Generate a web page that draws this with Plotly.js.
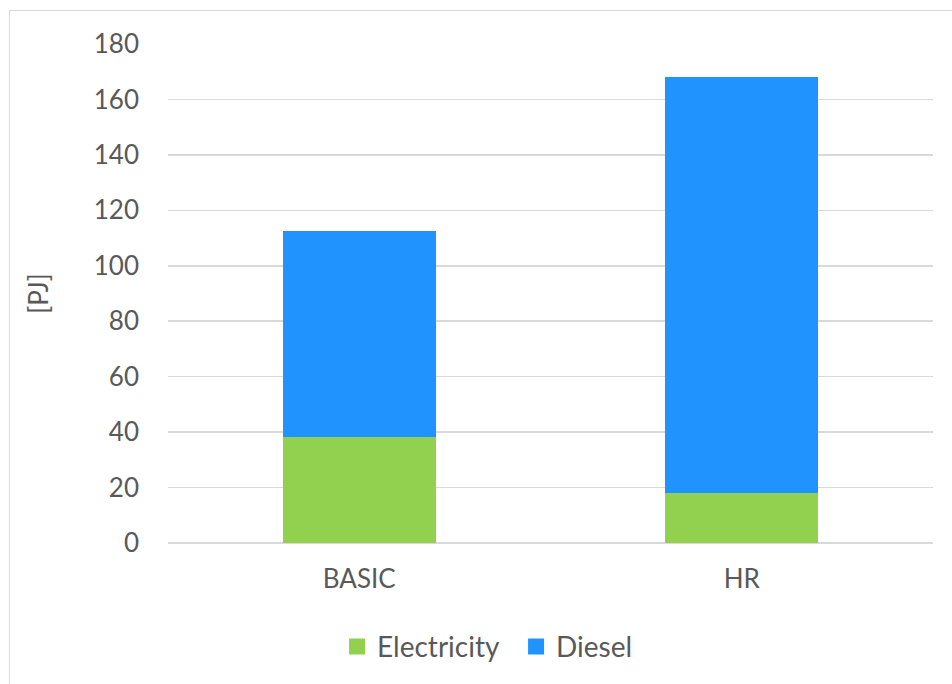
<!DOCTYPE html>
<html>
<head>
<meta charset="utf-8">
<script src="https://cdn.plot.ly/plotly-3.0.1.min.js"></script>
<style>
html,body{margin:0;padding:0;background:#fff;}
#wrap{position:relative;width:952px;height:684px;overflow:hidden;}
#frame{position:absolute;left:9px;top:10px;width:1000px;height:1000px;border-left:1px solid #d9d9d9;border-top:1px solid #d9d9d9;box-sizing:border-box;pointer-events:none;}
#chart{position:absolute;left:0;top:0;width:952px;height:684px;}
</style>
</head>
<body>
<div id="wrap">
<div id="chart"></div>
<div id="frame"></div>
</div>
<script>
const categories = ["BASIC", "HR"];
const electricity = [38.3, 18.0];
const diesel = [74.2, 150.1];
const seriesNames = ["Electricity", "Diesel"];
const seriesColors = ["#92D050", "#2193FF"];
const yTickVals = [0, 20, 40, 60, 80, 100, 120, 140, 160, 180];

const fontFam = "Lato, 'Open Sans', sans-serif";
const textColor = "#595959";

const traces = [
  {type: "bar", name: seriesNames[0], x: categories, y: electricity,
   marker: {color: seriesColors[0]}, hoverinfo: "none", showlegend: false},
  {type: "bar", name: seriesNames[1], x: categories, y: diesel,
   marker: {color: seriesColors[1]}, hoverinfo: "none", showlegend: false},
  // legend entries with larger square symbols
  {type: "scatter", mode: "markers", name: seriesNames[0], x: [categories[0]], y: [null],
   marker: {symbol: "square", size: 16, color: seriesColors[0]}, hoverinfo: "none"},
  {type: "scatter", mode: "markers", name: seriesNames[1], x: [categories[0]], y: [null],
   marker: {symbol: "square", size: 16, color: seriesColors[1]}, hoverinfo: "none"}
];

const layout = {
  width: 952, height: 684,
  margin: {l: 168, r: 19, t: 44, b: 141},
  barmode: "stack",
  bargap: 0.6,
  paper_bgcolor: "rgba(0,0,0,0)",
  plot_bgcolor: "#fff",
  font: {family: fontFam, color: textColor, size: 26},
  showlegend: true,
  legend: {orientation: "h", x: 0.221, xanchor: "left", y: -0.208, yanchor: "middle",
           font: {size: 28, color: textColor}, itemwidth: 30, traceorder: "normal",
           entrywidth: 134, entrywidthmode: "pixels"},
  xaxis: {type: "category", tickfont: {size: 26, color: textColor}, showline: false,
          ticks: "", ticklabelstandoff: 18},
  yaxis: {range: [0, 180], tickvals: yTickVals, ticktext: yTickVals.map(String),
          showgrid: true, gridcolor: "#d9d9d9", gridwidth: 1.5,
          zeroline: true, zerolinecolor: "#d9d9d9", zerolinewidth: 1.5,
          showline: false, ticks: "", ticklabelstandoff: 28,
          tickfont: {size: 26, color: textColor},
          title: {text: "[PJ]", font: {size: 26, color: textColor}, standoff: 37}}
};

Plotly.newPlot("chart", traces, layout, {displayModeBar: false, staticPlot: true});
</script>
</body>
</html>
